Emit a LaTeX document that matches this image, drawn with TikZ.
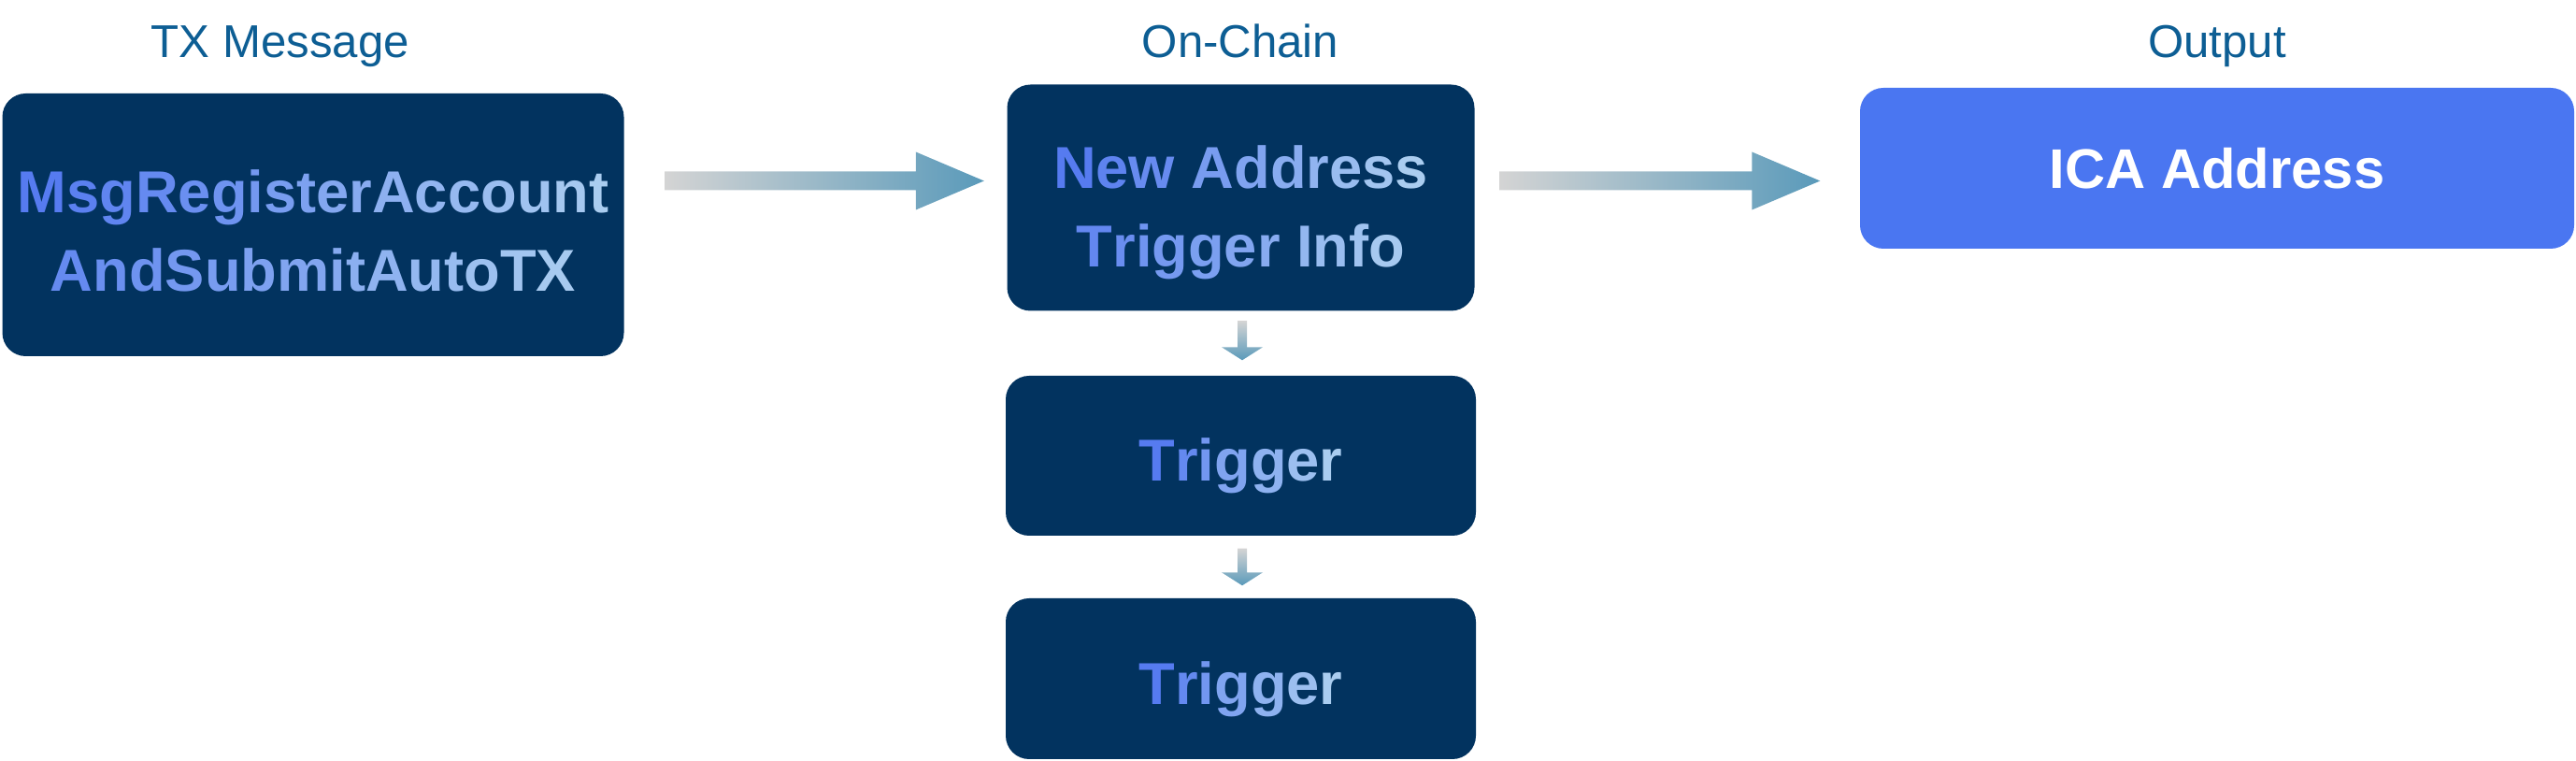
\documentclass[tikz,border=0pt]{standalone}
\usepackage{fontspec}
\setmainfont{Liberation Sans}
\usepackage{xcolor}
\usepackage{tikz}
\usetikzlibrary{calc,positioning}

\definecolor{navy}{HTML}{02335F}
\definecolor{icablue}{HTML}{4A76F1}
\definecolor{headblue}{HTML}{0D5E94}
\definecolor{txtleft}{HTML}{567BF0}
\definecolor{txtright}{HTML}{AACDF0}
\definecolor{arrgrey}{HTML}{D4D4D4}
\definecolor{arrteal}{HTML}{5A9ABA}

% letter by letter colour ramp: start %, end %, text
\ExplSyntaxOn
\int_new:N \l__grad_n_int
\int_new:N \l__grad_i_int
\NewDocumentCommand{\gradline}{ m m m }
  {
    \int_set:Nn \l__grad_n_int { \str_count:n {#3} - 1 }
    \int_zero:N \l__grad_i_int
    \str_map_inline:nn {#3}
      {
        \exp_args:Nx \color
          { txtright ! \int_eval:n { #1 + ( #2 - #1 ) * \l__grad_i_int / \l__grad_n_int } ! txtleft }
        {##1}
        \int_incr:N \l__grad_i_int
      }
  }
\ExplSyntaxOff

\tikzset{
  box/.style={fill=navy, rounded corners=0.25cm, inner sep=0pt},
  boxtext/.style={font=\bfseries\fontsize{18}{23.9}\selectfont, align=center, inner sep=0pt},
  heading/.style={font=\fontsize{14}{17}\selectfont, text=headblue, anchor=base},
}

% horizontal and vertical flow arrows, start -> tip
\newcommand{\hflow}[2]{
  \shade[left color=arrgrey, right color=arrteal]
    ($(#1)+(0,0.1)$) -- ($(#2)+(-0.73,0.1)$) -- ($(#2)+(-0.73,0.31)$) -- (#2)
    -- ($(#2)+(-0.73,-0.31)$) -- ($(#2)+(-0.73,-0.1)$) -- ($(#1)+(0,-0.1)$) -- cycle;
}
\newcommand{\vflow}[2]{
  \shade[top color=arrgrey, bottom color=arrteal]
    ($(#1)+(-0.05,0)$) -- ($(#2)+(-0.05,0.14)$) -- ($(#2)+(-0.22,0.14)$) -- (#2)
    -- ($(#2)+(0.22,0.14)$) -- ($(#2)+(0.05,0.14)$) -- ($(#1)+(0.05,0)$) -- cycle;
}

\begin{document}
\begin{tikzpicture}
  \useasboundingbox (0,0) rectangle (27.56,8.14);

  \node[heading] (hmsg) at (3.0,7.52) {TX Message};
  \node[heading] (hchain) at (13.27,7.52) {On-Chain};
  \node[heading] (hout) at (23.72,7.52) {Output};

  \node[box, minimum width=6.65cm, minimum height=2.81cm] (msg) at (3.35,5.735) {};
  \node[box, minimum width=5.0cm, minimum height=2.42cm] (addr) at (13.275,6.025) {};
  \node[box, minimum width=5.03cm, minimum height=1.71cm] (trig1) at (13.275,3.265) {};
  \node[box, minimum width=5.03cm, minimum height=1.72cm] (trig2) at (13.275,0.88) {};
  \node[box, fill=icablue, minimum width=7.64cm, minimum height=1.72cm] (ica) at (23.72,6.34) {};

  \node[boxtext] (msgtxt) at ([yshift=-0.065cm]msg.center) {\gradline{0}{100}{MsgRegisterAccount}\\\gradline{18}{96}{AndSubmitAutoTX}};
  \node[boxtext] (addrtxt) at ([yshift=-0.16cm]addr.center) {\gradline{0}{100}{New Address}\\\gradline{15}{95}{Trigger Info}};
  \node[boxtext] (trig1txt) at ([yshift=-0.11cm]trig1.center) {\gradline{0}{100}{Trigger}};
  \node[boxtext] (trig2txt) at ([yshift=-0.11cm]trig2.center) {\gradline{0}{100}{Trigger}};
  \node[boxtext, font=\bfseries\fontsize{17}{20}\selectfont, text=white] (icatxt) at (ica.center) {ICA Address};

  \coordinate (a1s) at ($(msg.east |- addr.center)+(0.43,0.18)$);
  \coordinate (a1t) at ($(addr.west)+(-0.24,0.18)$);
  \coordinate (a2s) at ($(addr.east)+(0.26,0.18)$);
  \coordinate (a2t) at ($(ica.west |- addr.center)+(-0.42,0.18)$);
  \coordinate (d1s) at ($(addr.south)+(0.015,-0.10)$);
  \coordinate (d1t) at ($(trig1.north)+(0.015,0.16)$);
  \coordinate (d2s) at ($(trig1.south)+(0.015,-0.13)$);
  \coordinate (d2t) at ($(trig2.north)+(0.015,0.13)$);

  \hflow{a1s}{a1t}
  \hflow{a2s}{a2t}
  \vflow{d1s}{d1t}
  \vflow{d2s}{d2t}
\end{tikzpicture}
\end{document}
